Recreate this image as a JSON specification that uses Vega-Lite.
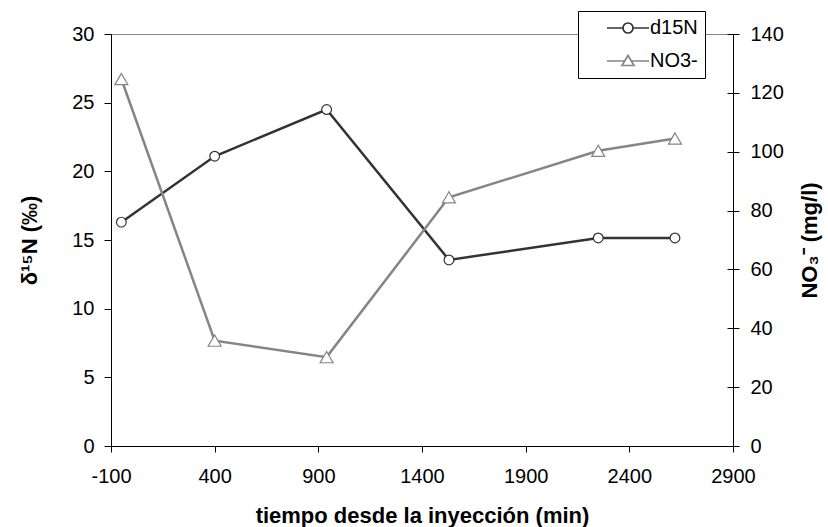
{
  "$schema": "https://vega.github.io/schema/vega-lite/v6.json",
  "width": 622,
  "height": 412,
  "autosize": {"type": "none"},
  "padding": {"left": 111, "top": 34, "right": 95, "bottom": 81},
  "background": "white",
  "config": {
    "view": {"stroke": "#888888", "strokeWidth": 1},
    "axis": {
      "labelFont": "Liberation Sans", "labelFontSize": 20, "labelColor": "black",
      "titleFont": "Liberation Sans", "titleFontSize": 22, "titleFontWeight": "bold", "titleColor": "black",
      "domainColor": "black", "domainWidth": 1, "tickColor": "black", "tickWidth": 1, "grid": false, "tickSize": 7
    },
    "legend": {"orient": "none", "legendX": 467, "legendY": -23, "title": null, "strokeColor": "black", "fillColor": "white", "padding": 7, "rowPadding": 13, "symbolSize": 100, "symbolStrokeWidth": 1.7, "labelFont": "Liberation Sans", "labelFontSize": 20, "labelColor": "black", "symbolOffset": 33, "labelOffset": 12}
  },
  "data": {
    "values": [
      {"t": -50, "serie": "d15N", "valor": 16.3},
      {"t": 400, "serie": "d15N", "valor": 21.1},
      {"t": 940, "serie": "d15N", "valor": 24.5},
      {"t": 1530, "serie": "d15N", "valor": 13.55},
      {"t": 2250, "serie": "d15N", "valor": 15.15},
      {"t": 2620, "serie": "d15N", "valor": 15.15},
      {"t": -50, "serie": "NO3-", "valor": 124.7},
      {"t": 400, "serie": "NO3-", "valor": 35.8},
      {"t": 940, "serie": "NO3-", "valor": 30.2},
      {"t": 1530, "serie": "NO3-", "valor": 84.5},
      {"t": 2250, "serie": "NO3-", "valor": 100.3},
      {"t": 2620, "serie": "NO3-", "valor": 104.5}
    ]
  },
  "encoding": {
    "x": {
      "field": "t", "type": "quantitative",
      "scale": {"domain": [-100, 2900], "nice": false, "zero": false},
      "axis": {"values": [-100, 400, 900, 1400, 1900, 2400, 2900], "labelExpr": "'' + datum.value", "title": "tiempo desde la inyección (min)", "tickSize": 6, "labelPadding": 14, "titlePadding": 19, "labelFlush": false, "labelOverlap": false}
    }
  },
  "layer": [
    {
      "transform": [{"filter": "datum.serie === 'd15N'"}],
      "encoding": {
        "y": {
          "field": "valor", "type": "quantitative",
          "scale": {"domain": [0, 30], "nice": false},
          "axis": {"orient": "left", "values": [0, 5, 10, 15, 20, 25, 30], "title": "δ¹⁵N (‰)", "labelPadding": 10, "titlePadding": 30}
        }
      },
      "layer": [
        {"mark": {"type": "line", "color": "#333333", "strokeWidth": 2.5}},
        {
          "mark": {"type": "point", "shape": "circle", "filled": false, "fill": "white", "size": 95, "strokeWidth": 1.2, "opacity": 1},
          "encoding": {
            "color": {"field": "serie", "type": "nominal", "scale": {"domain": ["d15N", "NO3-"], "range": ["#333333", "#858585"]},
              "legend": {"encoding": {"labels": {"text": {"value": {"expr": "datum.label + '\u00a0\u00a0\u00a0'"}}}, "symbols": {"fill": {"value": "white"}, "shape": {"value": {"expr": "datum.value === 'd15N' ? 'M -4.2 0 L -1 0 M 1 0 A 1 1 0 1 1 -1 0 A 1 1 0 1 1 1 0 M 1 0 L 4.2 0' : 'M -4.2 0 L -0.66 0 M 0 -1.1 L -1.2 0.9 L 1.2 0.9 Z M 0.66 0 L 4.2 0'"}}}}}}
          }
        }
      ]
    },
    {
      "transform": [{"filter": "datum.serie === 'NO3-'"}],
      "encoding": {
        "y": {
          "field": "valor", "type": "quantitative",
          "scale": {"domain": [0, 140], "nice": false},
          "axis": {"orient": "right", "values": [0, 20, 40, 60, 80, 100, 120, 140], "title": "NO₃⁻ (mg/l)", "titleAngle": 270, "tickSize": 6, "labelPadding": 11, "titlePadding": 38,
            "encoding": {"ticks": {"x": {"value": -6}}}}
        }
      },
      "layer": [
        {"mark": {"type": "line", "color": "#858585", "strokeWidth": 2.5}},
        {
          "mark": {"type": "point", "shape": "triangle-up", "filled": false, "fill": "white", "size": 169, "strokeWidth": 1.2, "opacity": 1},
          "encoding": {
            "color": {"field": "serie", "type": "nominal", "scale": {"domain": ["d15N", "NO3-"], "range": ["#333333", "#858585"]},
              "legend": {"encoding": {"labels": {"text": {"value": {"expr": "datum.label + '\u00a0\u00a0\u00a0'"}}}, "symbols": {"fill": {"value": "white"}, "shape": {"value": {"expr": "datum.value === 'd15N' ? 'M -4.2 0 L -1 0 M 1 0 A 1 1 0 1 1 -1 0 A 1 1 0 1 1 1 0 M 1 0 L 4.2 0' : 'M -4.2 0 L -0.66 0 M 0 -1.1 L -1.2 0.9 L 1.2 0.9 Z M 0.66 0 L 4.2 0'"}}}}}}
          }
        }
      ]
    }
  ],
  "resolve": {"scale": {"y": "independent"}}
}
